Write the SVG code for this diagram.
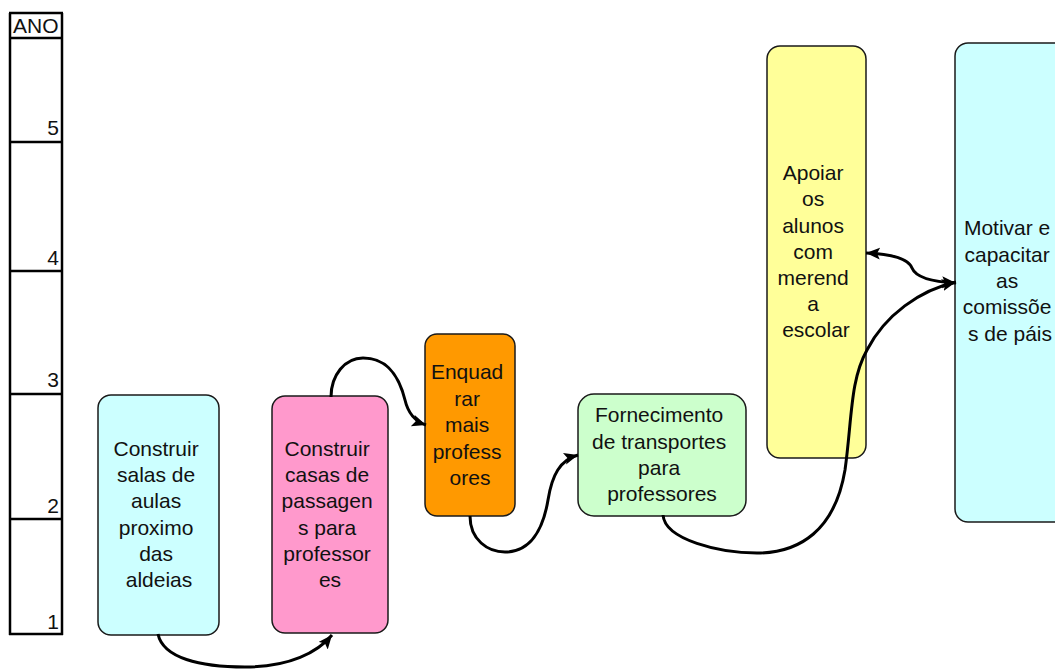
<svg xmlns="http://www.w3.org/2000/svg" width="1055" height="669" viewBox="0 0 1055 669">
  <style>
    .box { stroke: #1a1a1a; stroke-width: 1.5; }
    .lbl { font-family: "Liberation Sans", Arial, sans-serif; font-size: 21px; fill: #111; text-anchor: middle; }
    .axis { stroke: #000; stroke-width: 2.5; fill: none; }
    .axtxt { font-family: "Liberation Sans", Arial, sans-serif; font-size: 21px; fill: #111; }
    .conn { stroke: #000; stroke-width: 3; fill: none; }
  </style>
  <defs>
    <marker id="arrow" markerUnits="userSpaceOnUse" markerWidth="16" markerHeight="14" refX="14" refY="6" orient="auto-start-reverse" viewBox="0 0 16 14">
      <path d="M0,0 L14,6 L0,12 L3,6 z" fill="#000"/>
    </marker>
  </defs>
  <rect width="1055" height="669" fill="#fff"/>

  <!-- year scale -->
  <g id="scale">
    <line class="axis" x1="10" y1="13" x2="10" y2="635" stroke-width="3"/>
    <line class="axis" x1="62" y1="13" x2="62" y2="635"/>
    <line class="axis" x1="9" y1="13" x2="63" y2="13"/>
    <line class="axis" x1="9" y1="38" x2="63" y2="38"/>
    <line class="axis" x1="9" y1="142" x2="63" y2="142"/>
    <line class="axis" x1="9" y1="271" x2="63" y2="271"/>
    <line class="axis" x1="9" y1="394" x2="63" y2="394"/>
    <line class="axis" x1="9" y1="519" x2="63" y2="519"/>
    <line class="axis" x1="9" y1="634" x2="63" y2="634"/>
    <text class="axtxt" x="13" y="33">ANO</text>
    <text class="axtxt" x="59" y="135" text-anchor="end">5</text>
    <text class="axtxt" x="59" y="265" text-anchor="end">4</text>
    <text class="axtxt" x="59" y="387" text-anchor="end">3</text>
    <text class="axtxt" x="59" y="513" text-anchor="end">2</text>
    <text class="axtxt" x="59" y="629" text-anchor="end">1</text>
  </g>

  <g id="salas">
    <rect class="box" x="98" y="395" width="121" height="240" rx="13" fill="#CCFFFF"/>
    <text class="lbl" x="159">
      <tspan x="159" y="456">Construir</tspan>
      <tspan x="159" y="482">salas de</tspan>
      <tspan x="159" y="508">aulas</tspan>
      <tspan x="159" y="534.5">proximo</tspan>
      <tspan x="159" y="560.5">das</tspan>
      <tspan x="159" y="586.5">aldeias</tspan>
    </text>
  </g>

  <g id="casas">
    <rect class="box" x="272" y="396" width="116" height="237" rx="13" fill="#FF99CC"/>
    <text class="lbl" x="330">
      <tspan x="330" y="456">Construir</tspan>
      <tspan x="330" y="482">casas de</tspan>
      <tspan x="330" y="508">passagen</tspan>
      <tspan x="330" y="534.5">s para</tspan>
      <tspan x="330" y="560.5">professor</tspan>
      <tspan x="330" y="586.5">es</tspan>
    </text>
  </g>

  <g id="enquadrar">
    <rect class="box" x="425" y="334" width="90" height="182" rx="12" fill="#FF9900"/>
    <text class="lbl" x="470">
      <tspan x="470" y="379">Enquad</tspan>
      <tspan x="470" y="405.5">rar</tspan>
      <tspan x="470" y="432">mais</tspan>
      <tspan x="470" y="458.5">profess</tspan>
      <tspan x="470" y="485">ores</tspan>
    </text>
  </g>

  <g id="transportes">
    <rect class="box" x="578" y="394" width="168" height="122" rx="16" fill="#CCFFCC"/>
    <text class="lbl" x="662">
      <tspan x="662" y="422">Fornecimento</tspan>
      <tspan x="662" y="448.5">de transportes</tspan>
      <tspan x="662" y="474.5">para</tspan>
      <tspan x="662" y="501">professores</tspan>
    </text>
  </g>

  <g id="merenda">
    <rect class="box" x="767" y="46" width="99" height="412" rx="13" fill="#FFFF99"/>
    <text class="lbl" x="816">
      <tspan x="816" y="180">Apoiar</tspan>
      <tspan x="816" y="206">os</tspan>
      <tspan x="816" y="232.5">alunos</tspan>
      <tspan x="816" y="258.5">com</tspan>
      <tspan x="816" y="285">merend</tspan>
      <tspan x="816" y="311">a</tspan>
      <tspan x="816" y="337">escolar</tspan>
    </text>
  </g>

  <g id="comissoes">
    <rect class="box" x="955" y="43" width="112" height="479" rx="13" fill="#CCFFFF"/>
    <text class="lbl" x="1010">
      <tspan x="1010" y="235">Motivar e</tspan>
      <tspan x="1010" y="261.5">capacitar</tspan>
      <tspan x="1010" y="288">as</tspan>
      <tspan x="1010" y="314">comissõe</tspan>
      <tspan x="1010" y="340.5">s de páis</tspan>
    </text>
  </g>

  <g id="connectors">
    <path class="conn" d="M158,634 C163,658 200,667 245,667 C290,667 318,652 332,635" marker-end="url(#arrow)"/>
    <path class="conn" d="M331,397 C331,375 345,358 363,358 C390,358 400,380 405,400 C408,413 414,421 426,425" marker-end="url(#arrow)"/>
    <path class="conn" d="M470,516 C470,540 488,552 505,552 C530,552 543,530 548,500 C552,475 560,460 578,455" marker-end="url(#arrow)"/>
    <path class="conn" d="M663,515 C665,540 720,553 757,553 C800,553 835,530 845,470 C852,420 850,380 867,350 C885,315 920,290 956,282" marker-end="url(#arrow)"/>
    <path class="conn" d="M866,253 C890,254 908,258 912,268 C916,278 935,282 956,283" marker-start="url(#arrow)" marker-end="url(#arrow)"/>
  </g>
</svg>
